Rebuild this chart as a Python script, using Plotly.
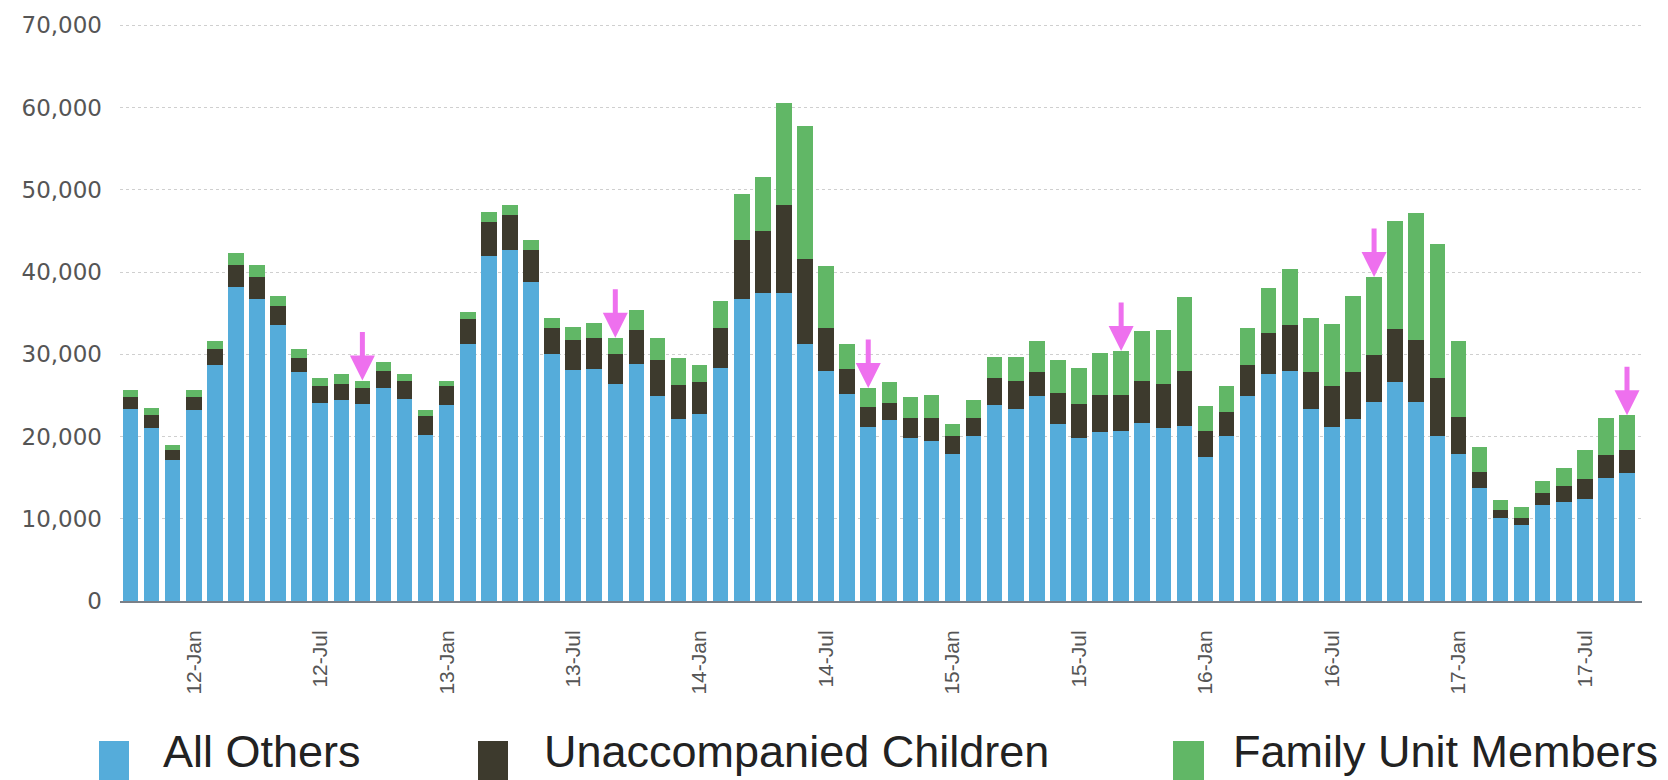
import plotly.graph_objects as go

# ---------------- data ----------------
months = [
    "11-Oct", "11-Nov", "11-Dec", "12-Jan", "12-Feb", "12-Mar", "12-Apr", "12-May", "12-Jun", "12-Jul", "12-Aug", "12-Sep",
    "12-Oct", "12-Nov", "12-Dec", "13-Jan", "13-Feb", "13-Mar", "13-Apr", "13-May", "13-Jun", "13-Jul", "13-Aug", "13-Sep",
    "13-Oct", "13-Nov", "13-Dec", "14-Jan", "14-Feb", "14-Mar", "14-Apr", "14-May", "14-Jun", "14-Jul", "14-Aug", "14-Sep",
    "14-Oct", "14-Nov", "14-Dec", "15-Jan", "15-Feb", "15-Mar", "15-Apr", "15-May", "15-Jun", "15-Jul", "15-Aug", "15-Sep",
    "15-Oct", "15-Nov", "15-Dec", "16-Jan", "16-Feb", "16-Mar", "16-Apr", "16-May", "16-Jun", "16-Jul", "16-Aug", "16-Sep",
    "16-Oct", "16-Nov", "16-Dec", "17-Jan", "17-Feb", "17-Mar", "17-Apr", "17-May", "17-Jun", "17-Jul", "17-Aug", "17-Sep",
]

all_others = [
    23300, 21000, 17200, 23200, 28700, 38200, 36700, 33600, 27900, 24100, 24500, 24000,
    25900, 24600, 20200, 23800, 31300, 41900, 42700, 38800, 30000, 28100, 28200, 26400,
    28800, 24900, 22100, 22700, 28300, 36700, 37500, 37500, 31200, 28000, 25200, 21200,
    22000, 19800, 19400, 17900, 20100, 23800, 23400, 24900, 21500, 19800, 20600, 20700,
    21700, 21000, 21300, 17500, 20100, 24900, 27600, 28000, 23300, 21200, 22100, 24200,
    26600, 24200, 20100, 17900, 13800, 10100, 9200, 11700, 12000, 12400, 14900, 15600,
]

unaccompanied_children = [
    1500, 1600, 1200, 1600, 1900, 2600, 2700, 2300, 1700, 2000, 1900, 1900,
    2100, 2100, 2300, 2300, 3000, 4200, 4200, 3900, 3200, 3600, 3800, 3600,
    4100, 4400, 4200, 3900, 4900, 7200, 7500, 10600, 10400, 5200, 3000, 2400,
    2100, 2400, 2800, 2200, 2200, 3300, 3300, 2900, 3800, 4200, 4500, 4400,
    5000, 5400, 6700, 3200, 2900, 3800, 5000, 5600, 4500, 5000, 5700, 5700,
    6500, 7500, 7000, 4500, 1900, 1000, 900, 1400, 2000, 2400, 2900, 2800,
]

family_unit_members = [
    900, 900, 600, 900, 1000, 1500, 1400, 1200, 1000, 1000, 1200, 900,
    1000, 900, 700, 700, 800, 1200, 1200, 1200, 1200, 1600, 1800, 2000,
    2500, 2700, 3300, 2100, 3300, 5600, 6500, 12500, 16200, 7500, 3100, 2300,
    2500, 2600, 2900, 1400, 2100, 2600, 3000, 3800, 4000, 4300, 5100, 5300,
    6100, 6500, 9000, 3000, 3100, 4500, 5500, 6800, 6600, 7500, 9300, 9500,
    13100, 15500, 16300, 9200, 3000, 1200, 1300, 1500, 2200, 3500, 4500, 4200,
]

tick_labels = ["12-Jan", "12-Jul", "13-Jan", "13-Jul", "14-Jan", "14-Jul",
               "15-Jan", "15-Jul", "16-Jan", "16-Jul", "17-Jan", "17-Jul"]

arrow_months = ["12-Sep", "13-Sep", "14-Sep", "15-Sep", "16-Sep", "17-Sep"]

series_names = ["All Others", "Unaccompanied Children", "Family Unit Members"]
series_colors = ["#55ACDA", "#3D3A2D", "#61B766"]

# ---------------- figure ----------------
W, H = 1668, 780
PL, PR, PT, PB = 120, 1642, 22, 601  # plot area pixel bounds
Y_MAX = 70400

fig = go.Figure()
for name, vals, col in zip(series_names,
                           [all_others, unaccompanied_children, family_unit_members],
                           series_colors):
    fig.add_trace(go.Bar(x=months, y=vals, name=name, marker_color=col,
                         marker_line_width=0, showlegend=False))

totals = {m: a + u + f for m, a, u, f in zip(months, all_others,
                                              unaccompanied_children, family_unit_members)}

annotations = []
for m in arrow_months:
    annotations.append(dict(x=m, y=totals[m], xref="x", yref="y", text="",
                            showarrow=True, ax=0, ay=-50, axref="pixel", ayref="pixel",
                            arrowhead=2, arrowsize=1.0, arrowwidth=5,
                            arrowcolor="#EE70EE", standoff=0))


def px_x(px):
    return (px - PL) / (PR - PL)


def px_y(py):
    return (PB - py) / (PB - PT)


shapes = []
legend_sq = [(99, 129), (478, 508), (1173, 1204)]
legend_tx = [161, 542, 1231]
for (x0, x1), tx, name, col in zip(legend_sq, legend_tx, series_names, series_colors):
    shapes.append(dict(type="rect", xref="paper", yref="paper",
                       x0=px_x(x0), x1=px_x(x1), y0=px_y(780), y1=px_y(741),
                       fillcolor=col, line_width=0))
    annotations.append(dict(x=px_x(tx), y=px_y(752), xref="paper", yref="paper",
                            text=name, showarrow=False, xanchor="left", yanchor="middle",
                            font=dict(family="Liberation Sans, Arial, sans-serif",
                                      size=45, color="#222222")))

fig.update_layout(
    width=W, height=H,
    margin=dict(l=PL, r=W - PR, t=PT, b=H - PB, pad=0),
    barmode="stack",
    bargap=0.26,
    plot_bgcolor="white",
    paper_bgcolor="white",
    annotations=annotations,
    shapes=shapes,
    xaxis=dict(
        type="category",
        tickmode="array",
        tickvals=tick_labels,
        ticktext=tick_labels,
        tickangle=-90,
        ticks="",
        ticklabelstandoff=19,
        tickfont=dict(family="Liberation Sans, Arial, sans-serif", size=21, color="#555555"),
        showline=True, linecolor="#7a8088", linewidth=2,
        showgrid=False,
        fixedrange=True,
    ),
    yaxis=dict(
        range=[0, Y_MAX],
        tickvals=[0, 10000, 20000, 30000, 40000, 50000, 60000, 70000],
        tickformat=",",
        ticks="",
        ticklabelstandoff=17,
        tickfont=dict(family="DejaVu Sans, sans-serif", size=23, color="#555555"),
        showgrid=True, gridcolor="#cfcfcf", griddash="dot", gridwidth=1,
        zeroline=False,
        showline=False,
    ),
)

fig.write_html("out.html",
               config={"displayModeBar": False},
               post_script="document.body.style.margin='0px';document.body.style.padding='0px';")
